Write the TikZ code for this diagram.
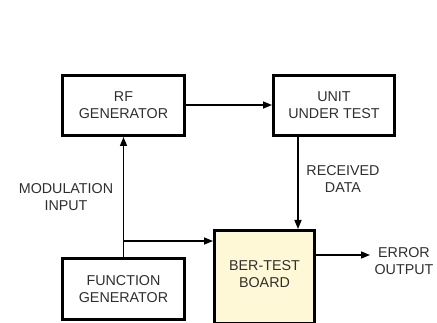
\documentclass[tikz,border=0pt]{standalone}
\usepackage{fontspec}
\setmainfont{Liberation Sans}
\usetikzlibrary{arrows.meta}
\definecolor{ink}{HTML}{2E2E2E}
\definecolor{boardfill}{HTML}{FFF8D6}
\tikzset{
  block/.style={draw=black, line width=3pt, inner sep=0pt, anchor=north west},
  flow/.style={draw=black, line width=1.5pt, -{Triangle[length=9pt,width=7pt]}},
  lbl/.style={text=ink, font=\fontsize{14.3}{17}\selectfont, align=center, inner sep=0pt},
}
\begin{document}
\begin{tikzpicture}[x=1pt, y=-1pt]
  \useasboundingbox (0,0) rectangle (437,323);

  % blocks
  \node[block, minimum width=122pt, minimum height=60pt] (rf) at (61,74) {};
  \node[lbl] at (rf.center) {RF\\GENERATOR};
  \node[block, minimum width=121pt, minimum height=60pt] (uut) at (272,74) {};
  \node[lbl] at (uut.center) {UNIT\\UNDER TEST};
  \node[block, minimum width=122pt, minimum height=61pt] (fg) at (61,257) {};
  \node[lbl] at (fg.center) {FUNCTION\\GENERATOR};
  \node[block, fill=boardfill, minimum width=100pt, minimum height=93pt] (ber) at (213,229) {};
  \node[lbl] at ([yshift=3pt]ber.center) {BER-TEST\\BOARD};

  % connectors
  \coordinate (tap) at (fg.north |- 0,241);
  \coordinate (errout) at (370,255);
  \draw[flow] (rf.east |- 0,105) -- (uut.west |- 0,105);
  \draw[flow] (298,134) -- (298,229);
  \draw[flow] (fg.north) -- (rf.south);
  \draw[flow] (tap) -- (ber.west |- tap);
  \draw[flow] (ber.east |- errout) -- (errout);

  % signal labels
  \node[lbl] (modin) at (66,197) {MODULATION\\INPUT};
  \node[lbl] (rxdata) at (343,179) {RECEIVED\\DATA};
  \node[lbl] (err) at (404,261) {ERROR\\OUTPUT};
\end{tikzpicture}
\end{document}
